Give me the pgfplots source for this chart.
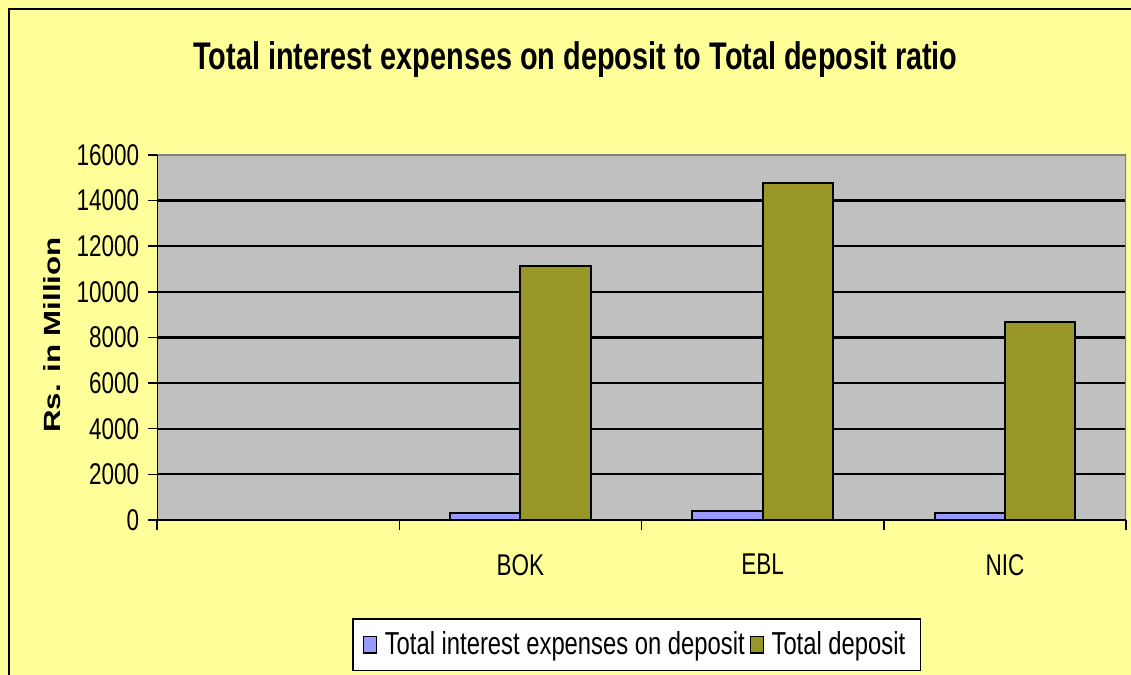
\documentclass[border=0pt]{standalone}
\usepackage{fontspec}
\setmainfont{Liberation Sans}[FakeStretch=0.75]
\newfontfamily\plainsans{Liberation Sans}
\usepackage{graphicx}
\usepackage{pgfplots}
\pgfplotsset{compat=1.18}

\definecolor{bgyellow}{HTML}{FFFF99}
\definecolor{plotgray}{HTML}{C0C0C0}
\definecolor{bordergray}{HTML}{808080}
\definecolor{barblue}{HTML}{9999FF}
\definecolor{barolive}{HTML}{999628}

\begin{document}
\begin{tikzpicture}
\clip (0,0) rectangle (452.4pt,270pt);
\fill[bgyellow] (0,0) rectangle (452.4pt,270pt);
\draw[black, line width=0.8pt] (3.4pt,-5pt) -- (3.4pt,266.4pt) -- (460pt,266.4pt);
\node[font=\fontsize{15.4}{18}\selectfont\bfseries] at (230.2pt,246.2pt)
  {Total interest expenses on deposit to Total deposit ratio};
\node[rotate=90] at (20.8pt,136pt)
  {\scalebox{1}[0.75]{\plainsans\fontsize{12.5}{15}\selectfont\bfseries Rs. in Million}};
\begin{axis}[
    at={(62.8pt,62pt)}, anchor=south west,
    scale only axis, width=387.6pt, height=146pt,
    ybar=0pt, bar width=0.29,
    xmin=-0.5, xmax=3.5, ymin=0, ymax=16000,
    ytick={0,2000,...,16000},
    xtick={0,1,2,3}, xticklabels={,BOK,EBL,NIC},
    minor xtick={-0.5,0.5,1.5,2.5,3.5},
    major x tick style={draw=none},
    tick align=outside, tick pos=left,
    major tick length=3.6pt, minor tick length=4pt,
    every tick/.style={black, line width=0.6pt},
    ymajorgrids, grid style={black, line width=0.9pt},
    axis background/.style={fill=plotgray},
    axis line style={draw=none},
    scaled y ticks=false,
    yticklabel style={/pgf/number format/1000 sep={}},
    /pgf/number format/assume math mode=true,
    ticklabel style={font=\fontsize{12}{14}\selectfont},
    xticklabel style={yshift=-6.6pt},
    legend style={at={(0.495,-0.342)}, anchor=center, draw=black, fill=white,
      legend columns=-1, font=\fontsize{12.7}{15}\selectfont,
      inner xsep=4pt, inner ysep=3pt, line width=0.6pt,
      /tikz/every odd column/.append style={column sep=1pt}},
    legend image code/.code={\draw[#1, line width=0.5pt] (0pt,-3.3pt) rectangle (5.2pt,3.3pt);},
    ]
\addplot[fill=barblue, draw=black, line width=0.8pt] coordinates {(1,295) (2,410) (3,320)};
\addplot[fill=barolive, draw=black, line width=0.8pt] coordinates {(1,11130) (2,14780) (3,8680)};
\legend{Total interest expenses on deposit,Total deposit}
\draw[bordergray, line width=0.9pt] (rel axis cs:0,1) -- (rel axis cs:1,1) -- (rel axis cs:1,0);
\draw[black, line width=0.8pt] (rel axis cs:0,1) -- (rel axis cs:0,0) -- (rel axis cs:1,0);
\end{axis}
\end{tikzpicture}
\end{document}
